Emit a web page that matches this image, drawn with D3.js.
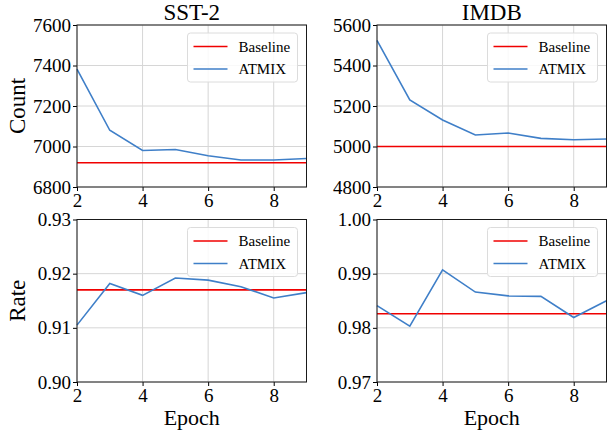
<!DOCTYPE html>
<html>
<head>
<meta charset="utf-8">
<script src="https://cdn.jsdelivr.net/npm/d3@7"></script>
<style>
  body { margin: 0; background: #fff; }
</style>
</head>
<body>
<div id="chart"></div>
<script>
// Chart data
const epochs = [2, 3, 4, 5, 6, 7, 8, 9];
const xTicks = [2, 4, 6, 8];

const sstCount = [7382, 7080, 6980, 6985, 6954, 6933, 6933, 6941];
const sstCountBaseline = 6920;
const imdbCount = [5524, 5230, 5131, 5057, 5067, 5040, 5033, 5037];
const imdbCountBaseline = 5000;

const sstRate = [0.9105, 0.9182, 0.9160, 0.9192, 0.9188, 0.9176, 0.9155, 0.9165];
const sstRateBaseline = 0.9170;
const imdbRate = [0.9841, 0.9803, 0.9907, 0.9866, 0.9859, 0.9858, 0.9819, 0.9850];
const imdbRateBaseline = 0.9826;

const countTicks = {sst: [6800, 7000, 7200, 7400, 7600], imdb: [4800, 5000, 5200, 5400, 5600]};
const rateTicks = {sst: [0.90, 0.91, 0.92, 0.93], imdb: [0.97, 0.98, 0.99, 1.00]};

const width = 607, height = 432;
const FONT = "Liberation Serif";
const redColor = "#f00000", blueColor = "#3f7fc8";

const svg = d3.select("#chart").append("svg")
  .attr("width", width)
  .attr("height", height);

// Draw one subplot
function drawPanel(p) {
  const x = d3.scaleLinear().domain([2, 9]).range([p.left, p.right]);
  const y = d3.scaleLinear().domain(d3.extent(p.yTicks)).range([p.bottom, p.top]);
  const g = svg.append("g");

  // grid lines
  g.selectAll(".gx").data(xTicks).enter().append("line")
    .attr("x1", d => x(d)).attr("x2", d => x(d))
    .attr("y1", p.top).attr("y2", p.bottom)
    .attr("stroke", "#d6d6d6").attr("stroke-width", 1);
  g.selectAll(".gy").data(p.yTicks).enter().append("line")
    .attr("x1", p.left).attr("x2", p.right)
    .attr("y1", d => y(d)).attr("y2", d => y(d))
    .attr("stroke", "#d6d6d6").attr("stroke-width", 1);

  // baseline and series
  g.append("line")
    .attr("x1", x(2)).attr("x2", x(9))
    .attr("y1", y(p.baseline)).attr("y2", y(p.baseline))
    .attr("stroke", redColor).attr("stroke-width", 1.6);

  const line = d3.line().x((d, i) => x(epochs[i])).y(d => y(d));
  g.append("path")
    .datum(p.values)
    .attr("d", line)
    .attr("fill", "none")
    .attr("stroke", blueColor)
    .attr("stroke-width", 1.6);

  // axes
  const xAxis = g.append("g")
    .attr("transform", `translate(0,${p.bottom})`)
    .call(d3.axisBottom(x).tickValues(xTicks).tickSize(4).tickPadding(2).tickFormat(d3.format("d")));
  const yAxis = g.append("g")
    .attr("transform", `translate(${p.left},0)`)
    .call(d3.axisLeft(y).tickValues(p.yTicks).tickSize(4).tickPadding(2).tickFormat(p.fmt));
  [xAxis, yAxis].forEach(a => {
    a.attr("font-family", FONT).attr("font-size", 19);
    a.select(".domain").remove();
    a.selectAll("text").attr("font-family", FONT).attr("font-size", 19).attr("fill", "#000");
    a.selectAll("line").attr("stroke", "#000");
  });
  xAxis.selectAll("text").attr("dy", "0.74em");

  // frame
  g.append("rect")
    .attr("x", p.left).attr("y", p.top)
    .attr("width", p.right - p.left).attr("height", p.bottom - p.top)
    .attr("fill", "none").attr("stroke", "#1a1a1a").attr("stroke-width", 1);

  // legend
  const lg = g.append("g").attr("transform", `translate(${p.right - 119},${p.top + 8})`);
  lg.append("rect")
    .attr("width", 110).attr("height", 49).attr("rx", 3)
    .attr("fill", "#fff").attr("fill-opacity", 0.85)
    .attr("stroke", "#dcdcdc").attr("stroke-width", 1);
  const items = [{name: "Baseline", color: redColor}, {name: "ATMIX", color: blueColor}];
  items.forEach((it, i) => {
    const yy = 13.5 + i * 22.5;
    lg.append("line")
      .attr("x1", 6).attr("x2", 40).attr("y1", yy).attr("y2", yy)
      .attr("stroke", it.color).attr("stroke-width", 1.6);
    lg.append("text")
      .attr("x", 51).attr("y", yy).attr("dy", "0.35em")
      .attr("font-family", FONT).attr("font-size", 15)
      .text(it.name);
  });
}

const cols = [{left: 77, right: 306.5}, {left: 377, right: 606.5}];
const rows = [{top: 25, bottom: 187}, {top: 219.5, bottom: 382}];

drawPanel({...cols[0], ...rows[0], values: sstCount, baseline: sstCountBaseline, yTicks: countTicks.sst, fmt: d3.format("d")});
drawPanel({...cols[1], ...rows[0], values: imdbCount, baseline: imdbCountBaseline, yTicks: countTicks.imdb, fmt: d3.format("d")});
drawPanel({...cols[0], ...rows[1], values: sstRate, baseline: sstRateBaseline, yTicks: rateTicks.sst, fmt: d3.format(".2f")});
drawPanel({...cols[1], ...rows[1], values: imdbRate, baseline: imdbRateBaseline, yTicks: rateTicks.imdb, fmt: d3.format(".2f")});

// titles and axis labels
const titles = ["SST-2", "IMDB"];
titles.forEach((t, i) => {
  svg.append("text")
    .attr("x", (cols[i].left + cols[i].right) / 2).attr("y", 20)
    .attr("text-anchor", "middle")
    .attr("font-family", FONT).attr("font-size", 23)
    .text(t);
  svg.append("text")
    .attr("x", (cols[i].left + cols[i].right) / 2).attr("y", 425)
    .attr("text-anchor", "middle")
    .attr("font-family", FONT).attr("font-size", 22)
    .text("Epoch");
});

const yLabels = ["Count", "Rate"];
yLabels.forEach((t, i) => {
  svg.append("text")
    .attr("transform", `translate(25,${(rows[i].top + rows[i].bottom) / 2}) rotate(-90)`)
    .attr("text-anchor", "middle")
    .attr("font-family", FONT).attr("font-size", 23)
    .text(t);
});
</script>
</body>
</html>
